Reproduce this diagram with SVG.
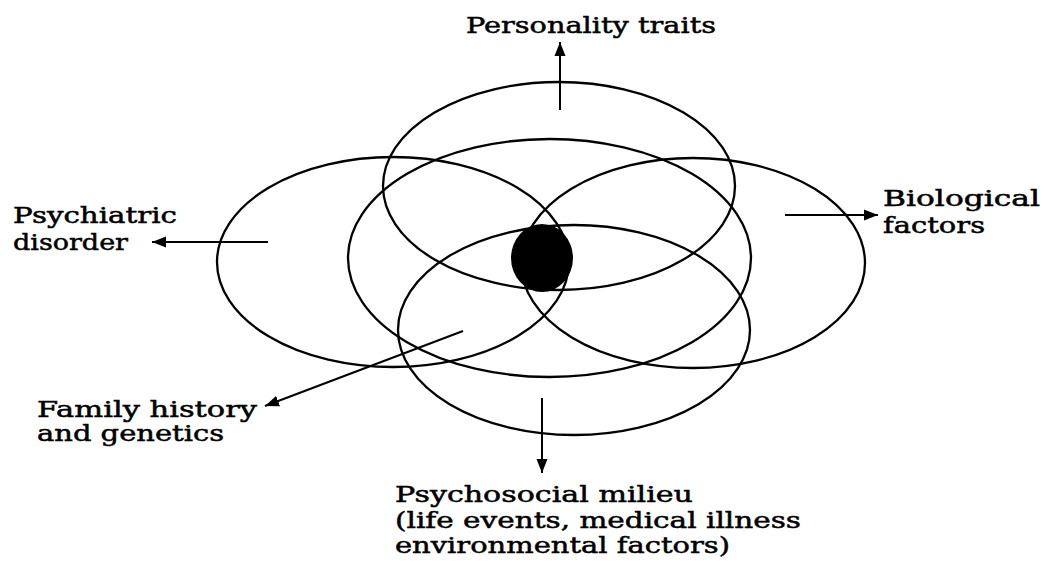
<svg xmlns="http://www.w3.org/2000/svg" width="1043" height="561" viewBox="0 0 1043 561">
<style>
.ring{fill:none;stroke:#000;stroke-width:2.3}
.conn{stroke:#000;stroke-width:2;fill:none;marker-end:url(#ah)}
text{font-family:"DejaVu Serif","Liberation Serif",serif;font-size:23px;fill:#000;stroke:#000;stroke-width:0.5}
</style>
<defs>
<marker id="ah" markerUnits="userSpaceOnUse" markerWidth="15" markerHeight="12" refX="14" refY="6" orient="auto">
<path d="M0,0.5 L14,6 L0,11.5 Z" fill="#000"/>
</marker>
</defs>
<rect width="1043" height="561" fill="#fff"/>
<g id="personality"><ellipse class="ring" cx="559" cy="186" rx="176" ry="104"/><text x="466" y="33" textLength="250" lengthAdjust="spacingAndGlyphs">Personality traits</text></g>
<g id="psychiatric"><ellipse class="ring" cx="393" cy="262" rx="176" ry="105"/><text x="13" y="223" textLength="164" lengthAdjust="spacingAndGlyphs">Psychiatric</text><text x="13" y="250" textLength="115" lengthAdjust="spacingAndGlyphs">disorder</text></g>
<g id="center"><ellipse class="ring" cx="549.5" cy="258" rx="201.5" ry="119"/></g>
<g id="biological"><ellipse class="ring" cx="693" cy="263" rx="172" ry="105"/><text x="883" y="206" textLength="157" lengthAdjust="spacingAndGlyphs">Biological</text><text x="883" y="233" textLength="102" lengthAdjust="spacingAndGlyphs">factors</text></g>
<g id="psychosocial"><ellipse class="ring" cx="574" cy="330" rx="176" ry="105"/><text x="395" y="502" textLength="298" lengthAdjust="spacingAndGlyphs">Psychosocial milieu</text><text x="395" y="528" textLength="406" lengthAdjust="spacingAndGlyphs">(life events, medical illness</text><text x="395" y="553" textLength="335" lengthAdjust="spacingAndGlyphs">environmental factors)</text></g>
<g id="family"><text x="37" y="417" textLength="220" lengthAdjust="spacingAndGlyphs">Family history</text><text x="37" y="441" textLength="187" lengthAdjust="spacingAndGlyphs">and genetics</text></g>
<g id="core"><ellipse cx="542" cy="258" rx="31" ry="34" fill="#000"/></g>
<g id="connectors">
<line class="conn" x1="560" y1="110" x2="560" y2="42"/>
<line class="conn" x1="268" y1="242" x2="152" y2="242"/>
<line class="conn" x1="785" y1="215" x2="878" y2="215"/>
<line class="conn" x1="463" y1="331" x2="265" y2="406"/>
<line class="conn" x1="542" y1="398" x2="542" y2="473"/>
</g>
</svg>
